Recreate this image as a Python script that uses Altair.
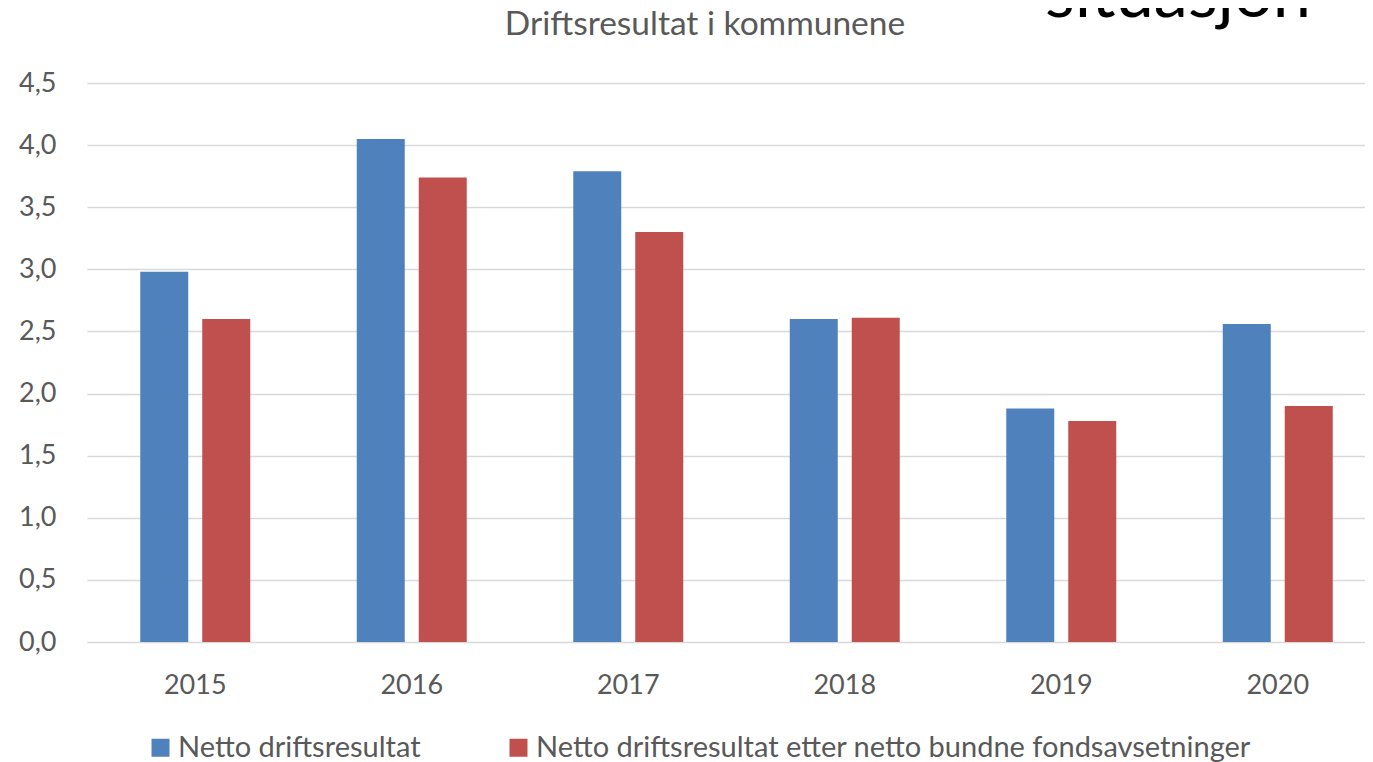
import altair as alt
import pandas as pd

years = ["2015", "2016", "2017", "2018", "2019", "2020"]
series_names = ["Netto driftsresultat",
                "Netto driftsresultat etter netto bundne fondsavsetninger"]
netto = [2.98, 4.05, 3.79, 2.60, 1.88, 2.56]
etter = [2.60, 3.74, 3.30, 2.61, 1.78, 1.90]
colors = ["#4F81BD", "#C0504D"]
y_ticks = [0, 0.5, 1.0, 1.5, 2.0, 2.5, 3.0, 3.5, 4.0, 4.5]
title_text = "Driftsresultat i kommunene"
overflow_word = "situasjon"

rows = []
for i, yr in enumerate(years):
    rows.append({"year": yr, "serie": series_names[0], "value": netto[i]})
    rows.append({"year": yr, "serie": series_names[1], "value": etter[i]})
df = pd.DataFrame(rows)

FONT = "Lato"
GRAY = "#595959"

bars = alt.Chart(df).mark_bar().encode(
    x=alt.X("year:N", sort=years, title=None,
            scale=alt.Scale(range=[0, 1299], paddingInner=0, paddingOuter=0),
            axis=alt.Axis(labelAngle=0, domain=False, ticks=False, labelPadding=30,
                          labelFont=FONT, labelFontSize=27, labelColor=GRAY, grid=False)),
    xOffset=alt.XOffset("serie:N", sort=series_names,
                        scale=alt.Scale(paddingInner=0.2258, paddingOuter=0.859)),
    y=alt.Y("value:Q", title=None,
            scale=alt.Scale(domain=[0, 4.5], nice=False),
            axis=alt.Axis(values=y_ticks, domain=False, ticks=False, labelPadding=31,
                          labelFont=FONT, labelFontSize=27, labelColor=GRAY,
                          gridColor="#D9D9D9", gridWidth=1.3,
                          labelExpr="replace(format(datum.value, '.1f'), '.', ',')")),
    color=alt.Color("serie:N", sort=series_names,
                    scale=alt.Scale(domain=series_names, range=colors),
                    legend=alt.Legend(title=None, orient="none", legendX=59, legendY=650,
                                      direction="horizontal", symbolType="square",
                                      symbolSize=324, symbolStrokeWidth=0, labelOffset=3,
                                      columnPadding=83, labelLimit=1000,
                                      labelFont=FONT, labelFontSize=29, labelColor=GRAY)),
)

title_mark = alt.Chart(pd.DataFrame({"t": [title_text]})).mark_text(
    align="center", baseline="alphabetic", font=FONT, fontSize=33.5, color=GRAY
).encode(text="t:N", x=alt.value(618), y=alt.value(-48))

overflow_text = alt.Chart(pd.DataFrame({"t": [overflow_word]})).mark_text(
    align="left", baseline="alphabetic", font=FONT, fontSize=68.5, color="#000000"
).encode(text="t:N", x=alt.value(958), y=alt.value(-66))

chart = alt.layer(bars, title_mark, overflow_text).properties(
    width=1278, height=559,
    autosize=alt.AutoSizeParams(type="none"),
    padding={"left": 79, "top": 75, "right": 0, "bottom": 120},
).configure_view(stroke=None)

chart.save("out.html", embed_options={"renderer": "svg", "actions": False})
